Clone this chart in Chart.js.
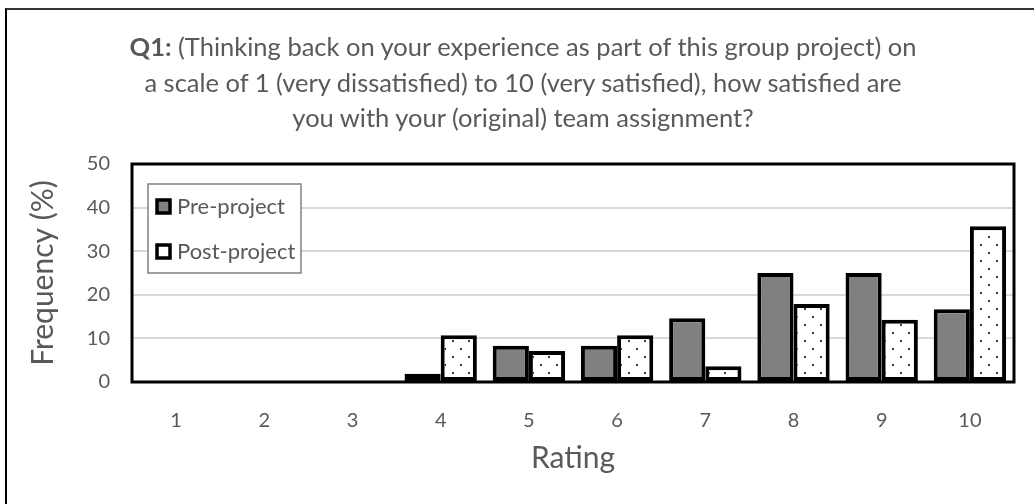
<!DOCTYPE html>
<html>
<head>
<meta charset="utf-8">
<script src="https://cdn.jsdelivr.net/npm/chart.js@4/dist/chart.umd.min.js"></script>
<style>
body { margin: 0; background: #fff; }
#wrap { position: relative; width: 1034px; height: 504px; overflow: hidden; background: #fff; }
#frame { position: absolute; left: 5px; top: 8px; width: 1100px; height: 600px;
         border-left: 2px solid #000; border-top: 2px solid #333; }
#title { position: absolute; left: 0; top: 29px; width: 1046px; text-align: center;
         font-family: Lato, sans-serif; font-size: 25.5px; line-height: 35.5px; color: #595959; }
#title b { font-weight: bold; }
canvas { position: absolute; left: 0; top: 0; }
</style>
</head>
<body>
<div id="wrap">
  <div id="frame"></div>
  <canvas id="chart" width="1034" height="504"></canvas>
  <div id="title"><b>Q1:</b> (Thinking back on your experience as part of this group project) on<br>a scale of 1 (very dissatisfied) to 10 (very satisfied), how satisfied are<br>you with your (original) team assignment?</div>
</div>
<script>
// data
const ratings = ['1', '2', '3', '4', '5', '6', '7', '8', '9', '10'];
const prePct = [0, 0, 0, 1.9, 8.3, 8.3, 14.6, 25, 25, 16.7];
const postPct = [0, 0, 0, 10.7, 7.1, 10.7, 3.6, 17.9, 14.3, 35.7];
const seriesNames = ['Pre-project', 'Post-project'];
const yMin = 0, yMax = 50, yStep = 10;

const textGrey = '#595959';
const font = 'Lato, sans-serif';

// dotted fill for the post-project bars
function makeDots() {
    const c = document.createElement('canvas');
    c.width = 16;
    c.height = 16;
    const g = c.getContext('2d');
    g.fillStyle = '#fff';
    g.fillRect(0, 0, 16, 16);
    g.fillStyle = '#404040';
    g.fillRect(4, 4, 2, 2);
    g.fillRect(12, 12, 2, 2);
    return g.createPattern(c, 'repeat');
}
const ctx = document.getElementById('chart').getContext('2d');
const dots = makeDots();

const plotBorder = {
    id: 'plotBorder',
    afterDatasetsDraw(chart) {
        const a = chart.chartArea;
        const c = chart.ctx;
        c.save();
        c.strokeStyle = '#000';
        c.lineWidth = 3;
        c.strokeRect(a.left, a.top, a.right - a.left, a.bottom - a.top);
        c.restore();
    }
};

const boxLegend = {
    id: 'boxLegend',
    afterDraw(chart) {
        const a = chart.chartArea;
        const c = chart.ctx;
        const x = a.left + 16, y = a.top + 20;
        c.save();
        c.fillStyle = '#fff';
        c.fillRect(x, y, 153, 89);
        c.strokeStyle = '#808080';
        c.lineWidth = 1.5;
        c.strokeRect(x, y, 153, 89);
        const fills = ['#808080', '#fff'];
        for (let i = 0; i < seriesNames.length; i++) {
            const my = y + 15 + i * 45;
            c.fillStyle = fills[i];
            c.fillRect(x + 8, my, 15, 15);
            c.strokeStyle = '#000';
            c.lineWidth = 3.5;
            c.strokeRect(x + 9, my + 1, 13, 13);
            c.fillStyle = textGrey;
            c.font = '22px ' + font;
            c.textBaseline = 'middle';
            c.fillText(seriesNames[i], x + 29, my + 8);
        }
        c.restore();
    }
};

const myChart = new Chart(ctx, {
    type: 'bar',
    data: {
        labels: ratings,
        datasets: [{
            label: seriesNames[0],
            data: prePct,
            backgroundColor: '#808080',
            borderColor: '#000',
            borderWidth: 4,
            borderSkipped: false
        }, {
            label: seriesNames[1],
            data: postPct,
            backgroundColor: dots,
            borderColor: '#000',
            borderWidth: 4,
            borderSkipped: false
        }]
    },
    options: {
        responsive: false,
        animation: false,
        devicePixelRatio: 1,
        layout: { padding: { top: 164, right: 20, left: 0, bottom: 0 } },
        datasets: { bar: { barPercentage: 1, categoryPercentage: 0.82 } },
        plugins: {
            legend: { display: false },
            tooltip: { enabled: false }
        },
        scales: {
            x: {
                grid: { display: false },
                border: { display: false },
                ticks: { color: textGrey, font: { family: font, size: 20 }, padding: 19 },
                title: {
                    display: true, text: 'Rating', color: textGrey,
                    font: { family: font, size: 30 }, padding: { top: 0, bottom: 28 }
                },
                afterFit(scale) { scale.height = 122; }
            },
            y: {
                min: yMin,
                max: yMax,
                ticks: { stepSize: yStep, color: textGrey, font: { family: font, size: 20 }, padding: 22 },
                grid: {
                    drawTicks: false,
                    lineWidth: 2,
                    color: c => (c.tick && (c.tick.value === yMin || c.tick.value === yMax)) ? 'rgba(0,0,0,0)' : '#d9d9d9'
                },
                border: { display: false },
                title: {
                    display: true, text: 'Frequency (%)', color: textGrey,
                    font: { family: font, size: 30 }, padding: { top: 25, bottom: 0 }
                },
                afterFit(scale) { scale.width = 132; }
            }
        }
    },
    plugins: [plotBorder, boxLegend]
});
</script>
</body>
</html>
